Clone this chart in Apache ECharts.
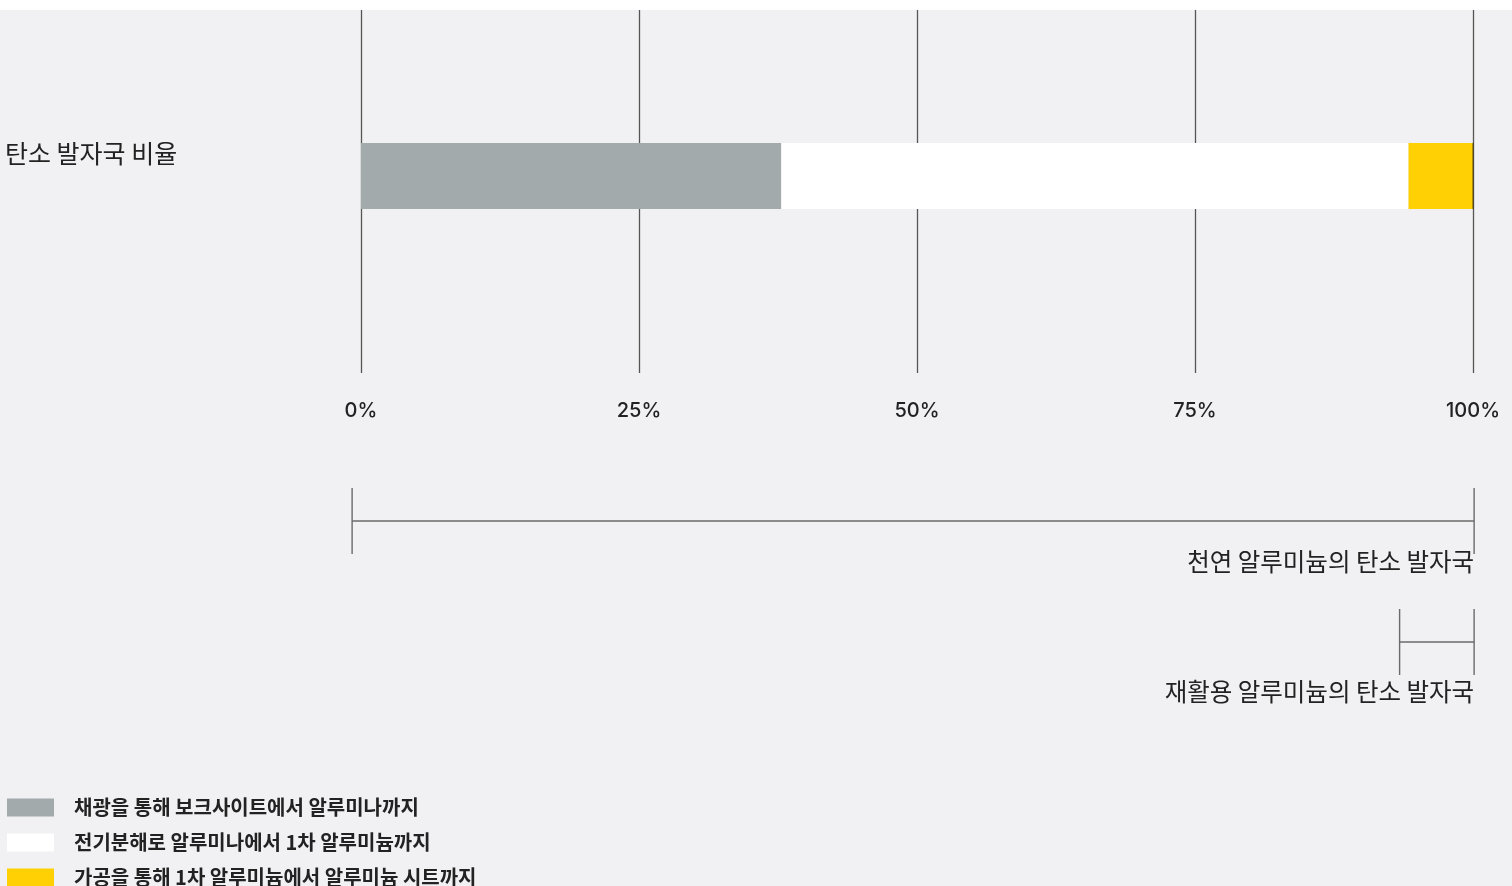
<!DOCTYPE html>
<html>
<head>
<meta charset="utf-8">
<script src="https://cdn.jsdelivr.net/npm/echarts@6/dist/echarts.min.js"></script>
<style>
  html, body { margin: 0; padding: 0; background: #ffffff; }
  #chart { width: 1512px; height: 886px; }
</style>
</head>
<body>
<div id="chart"></div>
<script>
// Carbon footprint share of each aluminium production stage
const categories = ['탄소 발자국 비율'];
const stageNames = [
  '채광을 통해 보크사이트에서 알루미나까지',
  '전기분해로 알루미나에서 1차 알루미늄까지',
  '가공을 통해 1차 알루미늄에서 알루미늄 시트까지'
];
const miningShare = [37.8];
const smeltingShare = [56.4];
const rollingShare = [5.8];
const percentTicks = [0, 25, 50, 75, 100];

// Ranges spanned by the two footprint brackets (in % of the axis)
const bracketNames = ['천연 알루미늄의 탄소 발자국', '재활용 알루미늄의 탄소 발자국'];
const bracketStart = [-0.8, 93.4];
const bracketEnd = [100.1, 100.1];

// Styling
const BG = '#f1f1f3';
const TEXT = '#222222';
const KR_FONT = '"Noto Sans CJK KR", "Noto Sans", sans-serif';
const NUM_FONT = 'Inter, "Noto Sans", sans-serif';
const stageColors = ['#a3aaab', '#ffffff', '#ffd104'];
const bracketLabelGap = [41, 50];
const bracketHalfTick = 33;

const chart = echarts.init(document.getElementById('chart'), null, { renderer: 'canvas' });

const axisMin = percentTicks[0];
const axisMax = percentTicks[percentTicks.length - 1];
const tickStep = percentTicks[1] - percentTicks[0];

const option = {
  backgroundColor: BG,
  animation: false,
  graphic: [{
    type: 'rect', left: 0, top: 0, z: 100,
    shape: { width: 1512, height: 10 },
    style: { fill: '#ffffff' }
  }],
  grid: [
    // gridlines + percent ticks
    { left: 361, right: 39, top: 10, height: 363 },
    // stacked bar row
    { left: 361, right: 39, top: 143, height: 66 },
    // footprint brackets
    { left: 361, right: 39, top: 460.5, height: 242 }
  ],
  xAxis: [
    {
      gridIndex: 0, type: 'value', min: axisMin, max: axisMax, interval: tickStep,
      axisLine: { show: false }, axisTick: { show: false },
      splitLine: { show: true, lineStyle: { color: '#555555', width: 1.3 } },
      axisLabel: {
        margin: 28, color: TEXT, fontFamily: NUM_FONT, fontSize: 20, lineHeight: 20,
        fontWeight: 500,
        formatter: v => v + '%'
      }
    },
    {
      gridIndex: 1, type: 'value', min: axisMin, max: axisMax, show: false
    },
    {
      gridIndex: 2, type: 'value', min: axisMin, max: axisMax, show: false
    }
  ],
  yAxis: [
    {
      gridIndex: 0, type: 'category', data: [''], show: false
    },
    {
      gridIndex: 1, type: 'category', data: categories,
      axisLine: { show: false }, axisTick: { show: false },
      axisLabel: {
        align: 'left', margin: 356, color: TEXT, fontFamily: KR_FONT, fontSize: 25,
        verticalAlign: 'bottom', lineHeight: 46
      }
    },
    {
      gridIndex: 2, type: 'category', data: bracketNames, inverse: true, show: false
    }
  ],
  legend: {
    data: stageNames,
    orient: 'vertical',
    left: 7, top: 797.5,
    width: 800, height: 200,
    padding: 0,
    itemWidth: 47, itemHeight: 18, itemGap: 15,
    icon: 'rect',
    selectedMode: false,
    textStyle: {
      color: TEXT, fontFamily: KR_FONT, fontSize: 20, fontWeight: 'bold',
      lineHeight: 18,
      padding: [0, 0, 0, 15]
    }
  },
  series: [
    {
      name: stageNames[0], type: 'bar', stack: 'share',
      xAxisIndex: 1, yAxisIndex: 1, barWidth: 66,
      itemStyle: { color: stageColors[0] },
      emphasis: { disabled: true },
      data: miningShare
    },
    {
      name: stageNames[1], type: 'bar', stack: 'share',
      xAxisIndex: 1, yAxisIndex: 1, barWidth: 66,
      itemStyle: { color: stageColors[1] },
      emphasis: { disabled: true },
      data: smeltingShare
    },
    {
      name: stageNames[2], type: 'bar', stack: 'share',
      xAxisIndex: 1, yAxisIndex: 1, barWidth: 66,
      itemStyle: { color: stageColors[2] },
      emphasis: { disabled: true },
      data: rollingShare,
      markLine: {
        silent: true, symbol: 'none', label: { show: false },
        lineStyle: { type: 'solid', color: 'rgba(70,55,0,0.45)', width: 2 },
        data: [{ xAxis: axisMax }]
      }
    },
    {
      name: 'brackets', type: 'custom',
      xAxisIndex: 2, yAxisIndex: 2, silent: true,
      data: bracketNames.map((n, i) => [bracketStart[i], bracketEnd[i], i]),
      encode: { x: [0, 1], y: 2 },
      renderItem: function (params, api) {
        const i = api.value(2);
        const p0 = api.coord([api.value(0), i]);
        const p1 = api.coord([api.value(1), i]);
        const y = p0[1];
        const stroke = { stroke: '#6a6a6a', lineWidth: 1.4 };
        return {
          type: 'group',
          children: [
            { type: 'line', shape: { x1: p0[0], y1: y, x2: p1[0], y2: y }, style: stroke },
            { type: 'line', shape: { x1: p0[0], y1: y - bracketHalfTick, x2: p0[0], y2: y + bracketHalfTick }, style: stroke },
            { type: 'line', shape: { x1: p1[0], y1: y - bracketHalfTick, x2: p1[0], y2: y + bracketHalfTick }, style: stroke },
            {
              type: 'text',
              style: {
                text: bracketNames[i], x: p1[0], y: y + bracketLabelGap[i],
                align: 'right', verticalAlign: 'middle',
                fill: TEXT, font: '24.5px ' + KR_FONT
              }
            }
          ]
        };
      }
    }
  ]
};

chart.setOption(option);
</script>
</body>
</html>
